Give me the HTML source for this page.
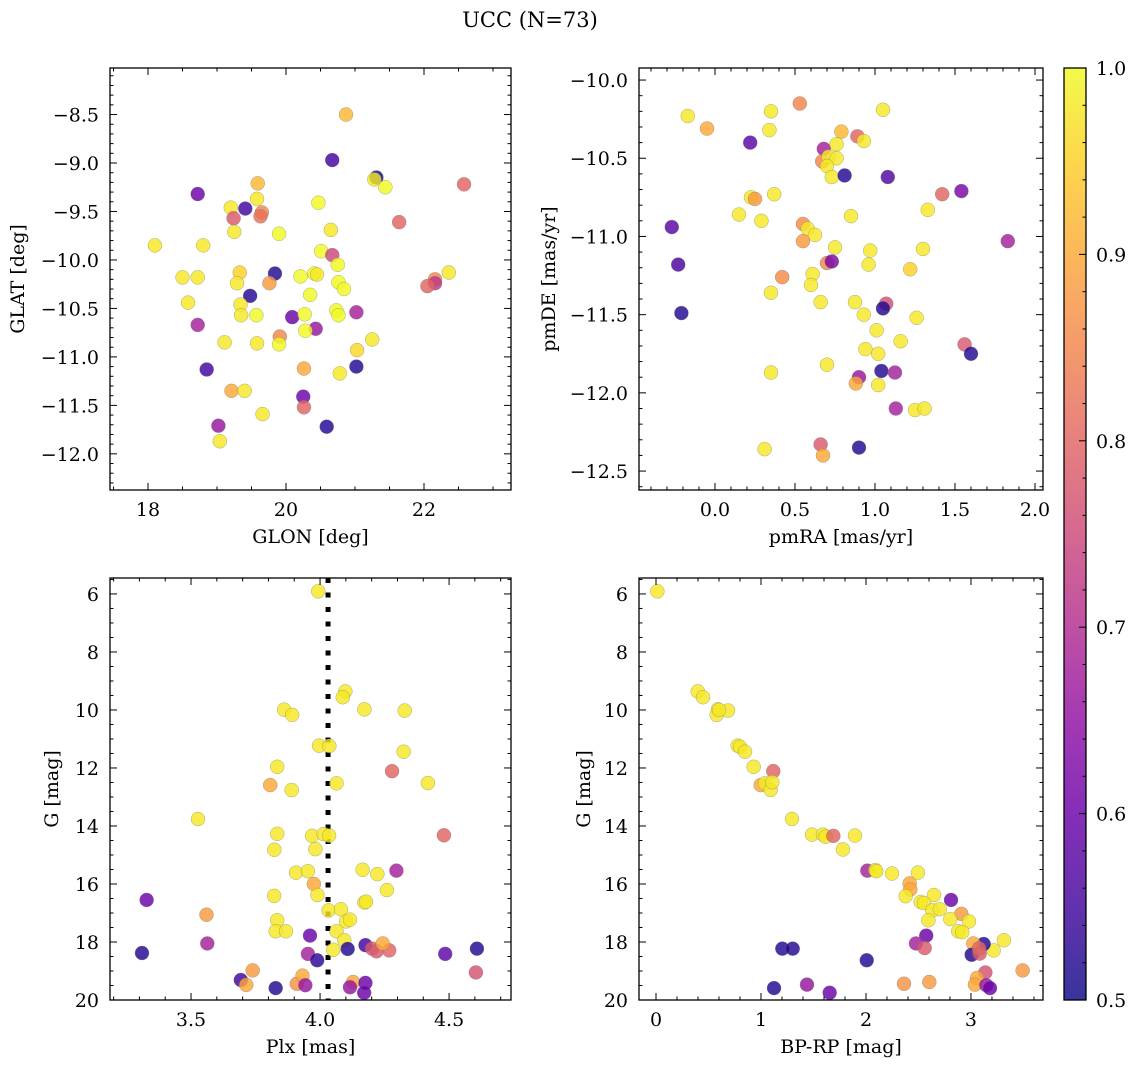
<!DOCTYPE html>
<html><head><meta charset="utf-8"><title>UCC (N=73)</title>
<style>
html,body{margin:0;padding:0;background:#fff;}
svg{display:block;font-family:"DejaVu Serif","Liberation Serif",serif;}
</style></head>
<body>
<svg id="chart" width="1136" height="1067" viewBox="0 0 1136 1067" xmlns="http://www.w3.org/2000/svg">
<text x="530" y="27" font-size="21" text-anchor="middle">UCC (N=73)</text>
<defs>
<linearGradient id="plasmaGrad" x1="0" y1="1" x2="0" y2="0">
<stop offset="0" stop-color="#0d0887"/><stop offset="0.1" stop-color="#41049d"/><stop offset="0.2" stop-color="#6a00a8"/><stop offset="0.3" stop-color="#8f0da4"/><stop offset="0.4" stop-color="#b12a90"/><stop offset="0.5" stop-color="#cc4778"/><stop offset="0.6" stop-color="#e16462"/><stop offset="0.7" stop-color="#f2844b"/><stop offset="0.8" stop-color="#fca636"/><stop offset="0.9" stop-color="#fcce25"/><stop offset="1" stop-color="#f0f921"/>
</linearGradient>
</defs>
</svg>
<script>
// ---- Panel 1: GLON vs GLAT ----
const glonVals=[20.87,20.67,21.31,21.28,21.44,22.58,18.72,19.59,19.58,19.20,19.41,19.65,19.63,19.24,20.47,21.64,19.25,19.90,20.65,18.10,18.80,20.51,20.67,20.75,18.50,18.72,19.33,19.29,19.84,19.76,20.21,20.41,20.45,20.76,20.84,22.36,22.16,22.16,22.05,19.48,20.35,19.34,19.35,19.57,18.58,18.72,20.09,20.27,20.43,20.28,20.73,20.76,21.02,21.25,21.03,21.02,20.78,19.11,19.58,19.91,19.90,18.85,20.26,19.21,19.40,20.25,20.26,19.66,20.59,19.02,19.04];
const glatVals=[-8.50,-8.97,-9.15,-9.17,-9.25,-9.22,-9.32,-9.21,-9.37,-9.46,-9.47,-9.51,-9.55,-9.57,-9.41,-9.61,-9.71,-9.73,-9.69,-9.85,-9.85,-9.91,-9.95,-10.05,-10.18,-10.18,-10.13,-10.24,-10.14,-10.24,-10.17,-10.14,-10.15,-10.23,-10.30,-10.13,-10.20,-10.24,-10.27,-10.37,-10.36,-10.46,-10.57,-10.57,-10.44,-10.67,-10.59,-10.56,-10.71,-10.73,-10.52,-10.57,-10.54,-10.82,-10.93,-11.10,-11.17,-10.85,-10.86,-10.79,-10.87,-11.13,-11.12,-11.35,-11.35,-11.41,-11.52,-11.59,-11.72,-11.71,-11.87];
const glProb=[0.92,0.55,0.5,0.98,1.0,0.8,0.6,0.92,0.98,0.98,0.55,0.85,0.82,0.78,1.0,0.8,0.98,1.0,0.98,0.98,0.98,1.0,0.75,1.0,0.98,0.98,0.95,0.98,0.52,0.88,1.0,1.0,0.98,1.0,1.0,0.98,0.85,0.72,0.8,0.52,1.0,0.98,0.98,1.0,0.98,0.68,0.6,1.0,0.66,1.0,1.0,1.0,0.68,0.98,0.96,0.52,0.98,0.98,0.98,0.85,1.0,0.55,0.9,0.9,0.98,0.6,0.8,0.98,0.52,0.66,0.98];
// ---- Panel 2: pmRA vs pmDE ----
const pmraVals=[-0.17,-0.05,0.35,0.53,1.05,0.34,0.22,0.79,0.89,0.93,0.68,0.76,0.67,0.71,0.76,0.70,0.73,0.81,1.08,1.42,1.54,0.225,0.25,0.37,1.33,0.15,0.29,0.85,-0.27,0.55,0.58,0.625,0.55,1.83,0.75,0.97,1.30,-0.23,0.70,0.73,0.96,1.22,0.42,0.61,0.60,0.35,0.66,0.875,1.07,1.05,-0.21,0.93,1.26,1.01,1.16,1.56,1.60,0.94,1.02,0.35,0.70,1.04,1.125,0.90,0.88,1.02,1.13,1.25,1.31,0.31,0.66,0.675,0.90];
const pmdeVals=[-10.23,-10.31,-10.20,-10.15,-10.19,-10.32,-10.40,-10.33,-10.36,-10.39,-10.44,-10.41,-10.52,-10.49,-10.50,-10.55,-10.62,-10.61,-10.62,-10.73,-10.71,-10.75,-10.76,-10.73,-10.83,-10.86,-10.90,-10.87,-10.94,-10.92,-10.95,-10.99,-11.03,-11.03,-11.07,-11.09,-11.08,-11.18,-11.17,-11.16,-11.18,-11.21,-11.26,-11.24,-11.31,-11.36,-11.42,-11.42,-11.43,-11.46,-11.49,-11.50,-11.52,-11.60,-11.67,-11.69,-11.75,-11.72,-11.75,-11.87,-11.82,-11.86,-11.87,-11.90,-11.94,-11.95,-12.10,-12.11,-12.10,-12.36,-12.33,-12.40,-12.35];
const pmProb=[0.98,0.9,0.98,0.85,0.98,0.98,0.58,0.92,0.8,0.98,0.68,0.98,0.85,0.98,0.98,0.98,0.98,0.52,0.57,0.8,0.62,0.98,0.88,0.98,0.98,0.98,0.98,0.98,0.58,0.86,0.98,0.98,0.88,0.68,0.98,0.98,0.98,0.56,0.85,0.62,0.98,0.95,0.86,0.98,0.98,0.98,0.98,0.98,0.76,0.52,0.52,0.98,0.98,0.98,0.98,0.78,0.52,0.98,0.98,0.98,0.98,0.52,0.68,0.66,0.9,0.98,0.68,0.98,0.98,0.98,0.78,0.9,0.52];
// ---- Panel 3: Plx vs G ----
const plxVals=[3.993,4.098,4.088,3.861,3.892,4.172,4.328,3.996,4.036,4.324,3.834,4.279,3.807,3.890,4.064,4.418,3.527,3.834,3.823,3.969,4.014,4.035,3.982,4.480,3.907,3.953,4.165,4.222,4.296,3.976,3.990,3.822,4.259,3.328,4.172,4.178,3.560,4.033,4.081,3.834,4.101,4.116,3.828,3.868,4.064,3.961,4.094,4.051,3.563,3.310,4.107,4.176,4.202,4.219,4.268,4.243,4.485,4.608,4.604,3.953,3.989,3.739,3.693,3.714,3.828,3.910,3.932,3.943,4.128,4.116,4.176,4.171];
const plxG=[5.91,9.36,9.56,9.99,10.17,9.98,10.02,11.23,11.24,11.44,11.96,12.11,12.59,12.76,12.53,12.52,13.76,14.27,14.82,14.34,14.28,14.33,14.80,14.32,15.61,15.56,15.51,15.66,15.54,16.00,16.38,16.41,16.21,16.55,16.64,16.61,17.06,16.91,16.87,17.25,17.29,17.23,17.63,17.63,17.63,17.78,17.94,18.27,18.05,18.38,18.24,18.11,18.23,18.32,18.29,18.05,18.41,18.23,19.05,18.41,18.63,18.98,19.31,19.48,19.59,19.44,19.16,19.49,19.38,19.56,19.41,19.75];
const plxProb=[0.98,0.98,0.98,0.98,0.98,0.98,0.98,0.98,0.98,0.98,0.98,0.8,0.9,0.98,0.98,0.98,0.98,0.98,0.98,0.98,0.98,0.98,0.98,0.8,0.98,0.98,0.98,0.98,0.68,0.9,0.98,0.98,0.98,0.6,0.98,0.98,0.88,0.98,0.98,0.98,0.98,0.98,0.98,0.98,0.98,0.6,0.98,0.98,0.68,0.52,0.52,0.55,0.78,0.78,0.8,0.9,0.58,0.52,0.77,0.68,0.53,0.88,0.55,0.9,0.52,0.87,0.9,0.66,0.9,0.66,0.6,0.6];
const plxRef=4.031;
// ---- Panel 4: BP-RP vs G ----
const bprpVals=[0.013,0.397,0.448,0.590,0.578,0.686,0.60,0.778,0.80,0.848,0.930,1.117,0.997,1.038,1.092,1.108,1.295,1.486,1.59,1.616,1.689,1.895,1.781,2.013,2.089,2.098,2.248,2.495,2.416,2.422,2.378,2.648,2.521,2.552,2.632,2.702,2.81,2.908,2.594,2.803,2.981,2.879,2.917,2.574,2.476,2.559,3.314,3.216,3.121,3.022,3.006,3.083,3.076,1.203,1.302,2.007,3.137,3.492,3.057,3.038,3.146,3.181,2.362,2.603,1.124,1.438,1.654];
const cmdG=[5.91,9.36,9.56,9.98,10.17,10.02,10.0,11.23,11.27,11.44,11.96,12.11,12.59,12.53,12.76,12.49,13.76,14.30,14.30,14.37,14.34,14.33,14.81,15.54,15.52,15.56,15.64,15.61,15.98,16.19,16.42,16.38,16.62,16.66,16.91,16.87,16.55,17.03,17.25,17.21,17.29,17.63,17.66,17.78,18.05,18.21,17.94,18.29,18.07,18.05,18.44,18.40,18.22,18.23,18.23,18.63,19.05,18.98,19.24,19.47,19.49,19.59,19.44,19.38,19.59,19.47,19.75];
const cmdProb=[0.98,0.98,0.98,0.98,0.98,0.98,0.98,0.98,0.98,0.98,0.98,0.8,0.9,0.98,0.98,0.98,0.98,0.98,0.98,0.98,0.8,0.98,0.98,0.68,0.98,0.98,0.98,0.98,0.9,0.9,0.98,0.98,0.98,0.98,0.98,0.98,0.6,0.88,0.98,0.98,0.98,0.98,0.98,0.6,0.68,0.78,0.98,0.98,0.52,0.9,0.52,0.78,0.8,0.52,0.52,0.52,0.77,0.88,0.9,0.9,0.66,0.6,0.87,0.88,0.52,0.66,0.6];
// ---- colorbar ticks ----
const cbTicks=[0.5,0.6,0.7,0.8,0.9,1.0];
const cbTickLabels=["0.5","0.6","0.7","0.8","0.9","1.0"];

const NS="http://www.w3.org/2000/svg";
const svg=document.getElementById('chart');
function mk(tag,attrs,parent){const e=document.createElementNS(NS,tag);for(const k in attrs)e.setAttribute(k,attrs[k]);(parent||svg).appendChild(e);return e;}
const stops=[[0,13,8,135],[0.1,65,4,157],[0.2,106,0,168],[0.3,143,13,164],[0.4,177,42,144],[0.5,204,71,120],[0.6,225,100,98],[0.7,242,132,75],[0.8,252,166,54],[0.9,252,206,37],[1,240,249,33]];
function plasma(p){let t=(p-0.5)/0.5;t=Math.max(0,Math.min(1,t));for(let i=0;i<stops.length-1;i++){const a=stops[i],b=stops[i+1];if(t<=b[0]){const f=(t-a[0])/(b[0]-a[0]);return `rgb(${Math.round(a[1]+f*(b[1]-a[1]))},${Math.round(a[2]+f*(b[2]-a[2]))},${Math.round(a[3]+f*(b[3]-a[3]))})`;}}return 'rgb(240,249,33)';}
function fmt(v,d){const s=v.toFixed(d);return v<0?'\u2212'+s.slice(1):s;}
const FS=19;

function panel(o){
  const g=mk('g',{});
  
  
  const sx=v=>o.L+(v-o.x0)/(o.x1-o.x0)*(o.R-o.L);
  const sy=v=>o.B-(v-o.y0)/(o.y1-o.y0)*(o.B-o.T);
  if(o.extra)o.extra(g,sx,sy);
  const pg=mk('g',{},g);
  
  
  for(let i=0;i<Math.min(o.xs.length,o.ys.length);i++){
    const c=mk('circle',{cx:sx(o.xs[i]),cy:sy(o.ys[i]),r:7,fill:plasma(o.ps[i]),'fill-opacity':0.82,stroke:'#777','stroke-opacity':0.6,'stroke-width':0.5},pg);
    
    
  }
  const f=mk('rect',{x:o.L,y:o.T,width:o.R-o.L,height:o.B-o.T,fill:'none',stroke:'#000','stroke-width':1.3},g);
  
  
  const tg=mk('g',{stroke:'#000','stroke-width':1},g);
  
  
  const eps=1e-6;
  const lo=Math.min(o.x0,o.x1),hi=Math.max(o.x0,o.x1);
  for(let k=Math.ceil(lo/o.xmin-eps);k*o.xmin<=hi+eps;k++){
    const v=k*o.xmin,x=sx(v);
    const major=Math.abs(v/o.xmaj-Math.round(v/o.xmaj))<1e-6;
    const len=major?7:3.5;
    mk('line',{x1:x,y1:o.B,x2:x,y2:o.B-len},tg);mk('line',{x1:x,y1:o.T,x2:x,y2:o.T+len},tg);
    if(major){const t=mk('text',{x:x,y:o.B+26,'font-size':FS,'text-anchor':'middle',stroke:'none'},g);t.textContent=fmt(v,o.xd);
      }
  }
  const ylo=Math.min(o.y0,o.y1),yhi=Math.max(o.y0,o.y1);
  for(let k=Math.ceil(ylo/o.ymin-eps);k*o.ymin<=yhi+eps;k++){
    const v=k*o.ymin,y=sy(v);
    const major=Math.abs(v/o.ymaj-Math.round(v/o.ymaj))<1e-6;
    const len=major?7:3.5;
    mk('line',{x1:o.L,y1:y,x2:o.L+len,y2:y},tg);mk('line',{x1:o.R,y1:y,x2:o.R-len,y2:y},tg);
    if(major){const t=mk('text',{x:o.L-11,y:y+7,'font-size':FS,'text-anchor':'end',stroke:'none'},g);t.textContent=fmt(v,o.yd);
      }
  }
  const xt=mk('text',{x:(o.L+o.R)/2,y:o.B+53,'font-size':FS,'text-anchor':'middle'},g);xt.textContent=o.xl;
  
  const yx=o.ylx,yy=(o.T+o.B)/2;
  const yt=mk('text',{x:yx,y:yy,'font-size':FS,'text-anchor':'middle',transform:`rotate(-90 ${yx} ${yy})`},g);yt.textContent=o.yl;
  
}

panel({name:'glon-glat-panel',L:110,R:511,T:68,B:490,x0:17.449,x1:23.261,y0:-12.373,y1:-8.02,xmaj:2,xmin:0.5,ymaj:0.5,ymin:0.1,xd:0,yd:1,xs:glonVals,ys:glatVals,ps:glProb,xl:'GLON [deg]',yl:'GLAT [deg]',ylx:24});
panel({name:'proper-motion-panel',L:639,R:1043,T:68,B:490,x0:-0.475,x1:2.05,y0:-12.621,y1:-9.923,xmaj:0.5,xmin:0.1,ymaj:0.5,ymin:0.1,xd:1,yd:1,xs:pmraVals,ys:pmdeVals,ps:pmProb,xl:'pmRA [mas/yr]',yl:'pmDE [mas/yr]',ylx:555});
panel({name:'parallax-panel',L:110,R:511,T:578,B:1000,x0:3.186,x1:4.740,y0:20,y1:5.45,xmaj:0.5,xmin:0.1,ymaj:2,ymin:0.5,xd:1,yd:0,xs:plxVals,ys:plxG,ps:plxProb,xl:'Plx [mas]',yl:'G [mag]',ylx:58,
  extra:(g,sx,sy)=>{const l=mk('line',{x1:sx(plxRef),y1:578,x2:sx(plxRef),y2:1000,stroke:'#000','stroke-width':5,'stroke-dasharray':'5 9.5'},g);
    }});
panel({name:'cmd-panel',L:639,R:1043,T:578,B:1000,x0:-0.162,x1:3.686,y0:20,y1:5.45,xmaj:1,xmin:0.2,ymaj:2,ymin:0.5,xd:0,yd:0,xs:bprpVals,ys:cmdG,ps:cmdProb,xl:'BP-RP [mag]',yl:'G [mag]',ylx:590});

const cb=mk('g',{});


const CT=68,CB=1000,CL=1064,CR=1086;
mk('rect',{x:CL,y:CT,width:CR-CL,height:CB-CT,fill:'url(#plasmaGrad)','fill-opacity':0.82},cb);
mk('rect',{x:CL,y:CT,width:CR-CL,height:CB-CT,fill:'none',stroke:'#000','stroke-width':1.3},cb);
const cy=v=>CB-(v-0.5)/0.5*(CB-CT);
for(let k=25;k<=50;k++){const v=k*0.02,y=cy(v);const major=(k%5===0);
  mk('line',{x1:CR,y1:y,x2:CR-(major?7:3.5),y2:y,stroke:'#000','stroke-width':1},cb);}
cbTicks.forEach((v,i)=>{const t=mk('text',{x:CR+10,y:cy(v)+7,'font-size':FS},cb);t.textContent=cbTickLabels[i];
  });
</script>
</body></html>
